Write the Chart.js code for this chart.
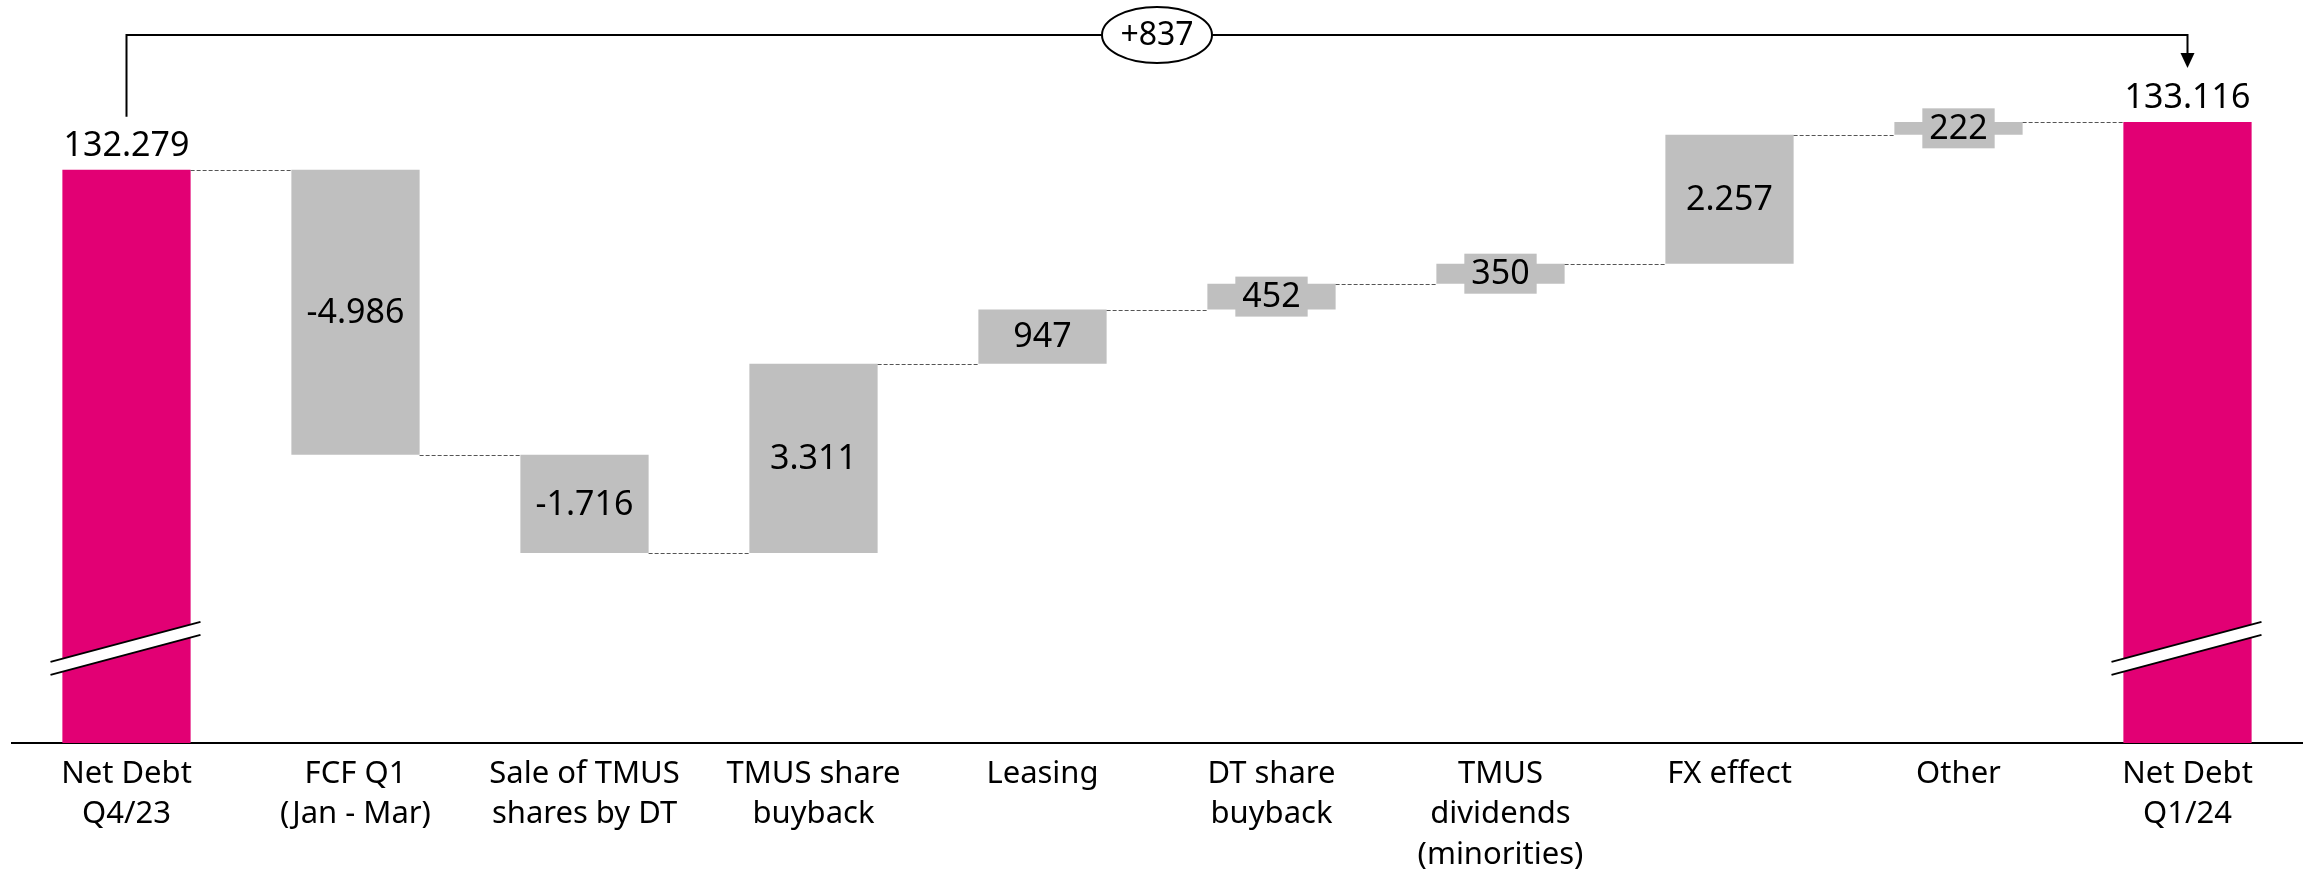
<!DOCTYPE html>
<html>
<head>
<meta charset="utf-8">
<script src="https://cdn.jsdelivr.net/npm/chart.js@4"></script>
<style>
  html, body { margin: 0; padding: 0; background: #fff; }
</style>
</head>
<body>
<canvas id="waterfall" width="2308" height="874"></canvas>
<script>
// values in EUR million
const categories = [
  ['Net Debt', 'Q4/23'],
  ['FCF Q1', '(Jan - Mar)'],
  ['Sale of TMUS', 'shares by DT'],
  ['TMUS share', 'buyback'],
  ['Leasing'],
  ['DT share', 'buyback'],
  ['TMUS', 'dividends', '(minorities)'],
  ['FX effect'],
  ['Other'],
  ['Net Debt', 'Q1/24']
];
const startValue = 132279;
const changes = [-4986, -1716, 3311, 947, 452, 350, 2257, 222];
const endValue = 133116;

// broken axis: the bars start at this value
const yMin = 122250;
const yMax = 135250;

const MAGENTA = '#E20074';
const GREY = '#BFBFBF';
const FONT = '"Noto Sans", "DejaVu Sans", sans-serif';

// floating bars + running totals
const ranges = [[yMin, startValue]];
const levels = [startValue];
let running = startValue;
changes.forEach(c => {
  ranges.push([running, running + c]);
  running += c;
  levels.push(running);
});
ranges.push([yMin, endValue]);
levels.push(endValue);
const shown = [startValue, ...changes, endValue];
const colors = shown.map((v, i) => (i === 0 || i === shown.length - 1) ? MAGENTA : GREY);

const fmt = v => v.toLocaleString('de-DE');

const decorations = {
  id: 'decorations',
  afterDatasetsDraw(chart) {
    const ctx = chart.ctx;
    const bars = chart.getDatasetMeta(0).data;
    const y = chart.scales.y;
    const area = chart.chartArea;
    const last = bars.length - 1;
    ctx.save();

    // dashed connectors
    ctx.strokeStyle = '#555';
    ctx.lineWidth = 1;
    ctx.setLineDash([4, 2]);
    for (let i = 0; i < last; i++) {
      const a = bars[i], b = bars[i + 1];
      const py = Math.round(y.getPixelForValue(levels[i])) + 0.5;
      ctx.beginPath();
      ctx.moveTo(a.x + a.width / 2, py);
      ctx.lineTo(b.x - b.width / 2, py);
      ctx.stroke();
    }
    ctx.setLineDash([]);

    // axis break marks on the two totals
    [bars[0], bars[last]].forEach(b => {
      const cy = area.bottom - 95;
      const x1 = b.x - 76, x2 = b.x + 74;
      const k = -40 / 150, gap = 13;
      const y1 = cy + k * (x1 - b.x), y2 = cy + k * (x2 - b.x);
      ctx.fillStyle = '#fff';
      ctx.beginPath();
      ctx.moveTo(x1, y1 - gap / 2);
      ctx.lineTo(x2, y2 - gap / 2);
      ctx.lineTo(x2, y2 + gap / 2);
      ctx.lineTo(x1, y1 + gap / 2);
      ctx.closePath();
      ctx.fill();
      ctx.strokeStyle = '#000';
      ctx.lineWidth = 2;
      ctx.beginPath();
      ctx.moveTo(x1, y1 - gap / 2);
      ctx.lineTo(x2, y2 - gap / 2);
      ctx.moveTo(x1, y1 + gap / 2);
      ctx.lineTo(x2, y2 + gap / 2);
      ctx.stroke();
    });

    // value labels
    ctx.font = '34px ' + FONT;
    ctx.textAlign = 'center';
    bars.forEach((b, i) => {
      const txt = fmt(shown[i]);
      if (i === 0 || i === last) {
        ctx.textBaseline = 'alphabetic';
        ctx.fillStyle = '#000';
        ctx.fillText(txt, b.x, b.y - 14);
        return;
      }
      const top = Math.min(b.y, b.base), bot = Math.max(b.y, b.base);
      const cy = (top + bot) / 2;
      if (bot - top < 44) {
        const w = ctx.measureText(txt).width + 14;
        ctx.fillStyle = GREY;
        ctx.fillRect(b.x - w / 2, cy - 20, w, 40);
      }
      ctx.fillStyle = '#000';
      ctx.textBaseline = 'middle';
      ctx.fillText(txt, b.x, cy + 1);
    });

    // bracket with total change
    const bx0 = bars[0].x, bx1 = bars[last].x;
    const by = area.top + 35;
    const tip = bars[last].y - 54;
    ctx.strokeStyle = '#000';
    ctx.lineWidth = 2;
    ctx.beginPath();
    ctx.moveTo(bx0, bars[0].y - 53);
    ctx.lineTo(bx0, by);
    ctx.lineTo(bx1, by);
    ctx.lineTo(bx1, tip - 14);
    ctx.stroke();
    ctx.fillStyle = '#000';
    ctx.beginPath();
    ctx.moveTo(bx1 - 7, tip - 15);
    ctx.lineTo(bx1 + 7, tip - 15);
    ctx.lineTo(bx1, tip);
    ctx.closePath();
    ctx.fill();

    const ex = (bx0 + bx1) / 2;
    ctx.fillStyle = '#fff';
    ctx.beginPath();
    ctx.ellipse(ex, by, 55, 28, 0, 0, Math.PI * 2);
    ctx.fill();
    ctx.stroke();
    ctx.fillStyle = '#000';
    ctx.font = '32px ' + FONT;
    ctx.textBaseline = 'middle';
    const diff = endValue - startValue;
    ctx.fillText((diff > 0 ? '+' : '') + fmt(diff), ex, by + 1);

    ctx.restore();
  }
};

new Chart(document.getElementById('waterfall'), {
  type: 'bar',
  data: {
    labels: categories,
    datasets: [{
      data: ranges,
      backgroundColor: colors,
      borderWidth: 0,
      barPercentage: 0.56,
      categoryPercentage: 1
    }]
  },
  options: {
    responsive: false,
    animation: false,
    layout: { padding: { left: 12, right: 6, top: 0, bottom: -12 } },
    plugins: { legend: { display: false }, tooltip: { enabled: false } },
    scales: {
      x: {
        offset: true,
        grid: { display: false, drawTicks: false },
        border: { display: true, color: '#000', width: 2 },
        ticks: {
          color: '#000',
          font: { family: FONT, size: 31, lineHeight: 1.3 },
          padding: 11,
          maxRotation: 0,
          autoSkip: false
        }
      },
      y: { display: false, min: yMin, max: yMax }
    }
  },
  plugins: [decorations]
});
</script>
</body>
</html>
